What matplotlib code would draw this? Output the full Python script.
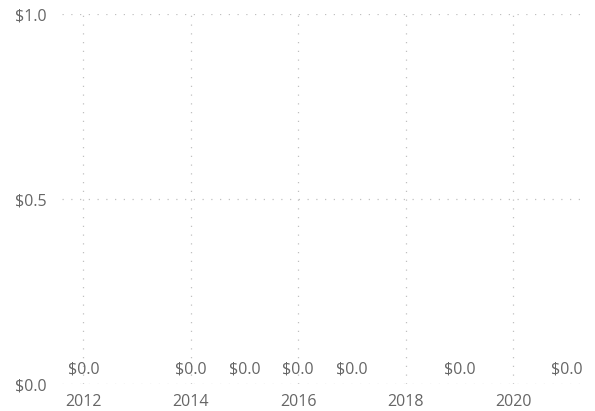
import matplotlib
matplotlib.use('Agg')
import matplotlib.pyplot as plt

years = [2012, 2014, 2015, 2016, 2017, 2019, 2021]
values = [0.0, 0.0, 0.0, 0.0, 0.0, 0.0, 0.0]
x_ticks = [2012, 2014, 2016, 2018, 2020]
y_ticks = [0.0, 0.5, 1.0]

plt.rcParams['font.family'] = ['Open Sans', 'DejaVu Sans']
grey = '#666666'

fig = plt.figure(figsize=(5.95, 4.11), dpi=100)
ax = fig.add_axes([62 / 595, 27 / 411, 523 / 595, 370 / 411])

# zero values: marks sit on the baseline, only labels show
ax.plot(years, values, linewidth=0)
for x, v in zip(years, values):
    ax.annotate(f'${v:.1f}', (x, v), xytext=(0, 5), textcoords='offset points',
                ha='center', va='bottom', fontsize=11.5, color=grey)

ax.set_xlim(2011.6, 2021.34)
ax.set_ylim(0, 1.0)
ax.set_xticks(x_ticks)
ax.set_yticks(y_ticks)
ax.set_yticklabels([f'${t:.1f}' for t in y_ticks])
ax.tick_params(length=0, labelsize=11.5, labelcolor=grey, pad=7)
ax.tick_params(axis='y', pad=11)
ax.grid(True, linestyle=(0, (1, 6)), color='#c0c0c0', linewidth=0.9)
for s in ax.spines.values():
    s.set_visible(False)

fig.savefig('out.png', dpi=100)
